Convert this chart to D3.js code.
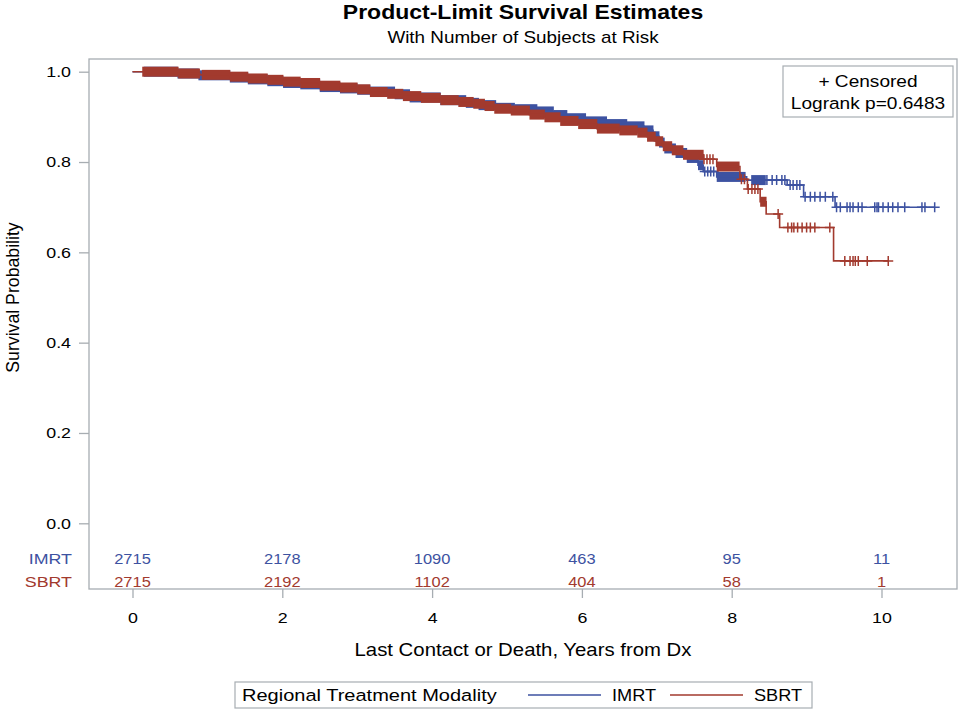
<!DOCTYPE html>
<html>
<head>
<meta charset="utf-8">
<script src="https://cdn.jsdelivr.net/npm/d3@7"></script>
<style>
  html, body { margin: 0; padding: 0; background: #fff; }
  svg { display: block; font-family: "Liberation Sans", Arial, sans-serif; }
</style>
</head>
<body>
<svg id="chart" width="961" height="711"></svg>
<script>
// ---------------- DATA ----------------
const groups = ["IMRT", "SBRT"];
const groupColors = ["#3D52A1", "#A23A2E"];
const xTicks = [0, 2, 4, 6, 8, 10];
const yTicks = [0.0, 0.2, 0.4, 0.6, 0.8, 1.0];
const riskTimes = [0, 2, 4, 6, 8, 10];
const riskIMRT = [2715, 2178, 1090, 463, 95, 11];
const riskSBRT = [2715, 2192, 1102, 404, 58, 1];
const logrankP = "0.6483";

// Kaplan-Meier steps: [time (years), survival from that time on]
const stepsIMRT = [
  [0, 1.0], [0.60, 0.996], [0.88, 0.992], [1.30, 0.987], [1.54, 0.983],
  [1.80, 0.979], [2.01, 0.975], [2.24, 0.972], [2.50, 0.966], [2.77, 0.963],
  [3.00, 0.960], [3.17, 0.956], [3.50, 0.950], [3.70, 0.943], [4.11, 0.937],
  [4.45, 0.931], [4.62, 0.926], [4.85, 0.920], [5.10, 0.917], [5.40, 0.912],
  [5.62, 0.904], [5.80, 0.897], [6.05, 0.890], [6.33, 0.884], [6.60, 0.879],
  [6.83, 0.870], [6.95, 0.857], [7.03, 0.843], [7.10, 0.830], [7.25, 0.820],
  [7.40, 0.809], [7.55, 0.793], [7.62, 0.779], [7.80, 0.767], [8.20, 0.760],
  [8.74, 0.749], [8.96, 0.723], [9.38, 0.700]
];
const endIMRT = 10.71;
const stepsSBRT = [
  [0, 1.0], [0.61, 0.996], [0.90, 0.993], [1.30, 0.989], [1.54, 0.985],
  [1.80, 0.982], [2.01, 0.978], [2.24, 0.975], [2.50, 0.969], [2.77, 0.965],
  [3.00, 0.961], [3.17, 0.955], [3.40, 0.951], [3.61, 0.946], [3.85, 0.942],
  [4.11, 0.937], [4.35, 0.933], [4.55, 0.929], [4.70, 0.924], [4.83, 0.918],
  [5.05, 0.914], [5.30, 0.905], [5.50, 0.899], [5.71, 0.891], [5.95, 0.884],
  [6.20, 0.874], [6.50, 0.870], [6.74, 0.865], [6.87, 0.856], [6.98, 0.846],
  [7.08, 0.835], [7.20, 0.826], [7.35, 0.816], [7.62, 0.806], [7.80, 0.790],
  [8.11, 0.762], [8.21, 0.740], [8.38, 0.712], [8.46, 0.685], [8.64, 0.655],
  [9.36, 0.581]
];
const endSBRT = 10.09;

// time ranges where censoring marks are so dense they merge into a solid band
const denseIMRT = [[0.15, 7.62], [7.80, 8.18], [8.26, 8.45]];
const denseSBRT = [[0.13, 0.895], [0.925, 7.62], [7.80, 8.10], [8.38, 8.46]];

// individual censoring times (outside dense ranges)
const censorIMRT = [7.64, 7.68, 7.72, 7.76, 8.47, 8.54, 8.60, 8.67, 8.71,
  8.78, 8.82, 8.87, 8.91, 8.98, 9.05, 9.11, 9.18, 9.25, 9.35,
  9.40, 9.45, 9.54, 9.58, 9.62, 9.69, 9.74, 9.91, 9.94, 9.96, 10.02,
  10.09, 10.15, 10.22, 10.31, 10.54, 10.58, 10.71];
const censorSBRT = [7.63, 7.67, 7.71, 7.75, 8.13, 8.17, 8.22, 8.27, 8.31, 8.35,
  8.62, 8.75, 8.80, 8.83, 8.88, 8.94, 9.00, 9.05, 9.11, 9.31,
  9.51, 9.58, 9.62, 9.65, 9.69, 9.81, 10.09];

// ---------------- CHART ----------------
const svg = d3.select("#chart");
const frame = { left: 89, top: 59, right: 957, bottom: 589 };
const x = d3.scaleLinear().domain([0, 10]).range([132.5, 881.5]);
const y = d3.scaleLinear().domain([0, 1]).range([523.3, 71.7]);
const gray = "#A7ADB2";
const SX = 1.15; // horizontal glyph stretch of the reference rendering
const valueFont = 15.5, labelFont = 17.7;

function stretch(sel) {
  sel.each(function () {
    const t = d3.select(this);
    const tx = +t.attr("x") || 0, ty = +t.attr("y") || 0;
    t.attr("x", 0).attr("y", 0)
      .attr("transform", `translate(${tx},${ty}) scale(${SX},1)`);
  });
  return sel;
}

// titles
const cx = (frame.left + frame.right) / 2;
stretch(svg.append("text").attr("x", cx).attr("y", 19).attr("text-anchor", "middle")
  .attr("font-size", 20).attr("font-weight", "bold").attr("fill", "#000")
  .text("Product-Limit Survival Estimates"));
stretch(svg.append("text").attr("x", cx).attr("y", 43).attr("text-anchor", "middle")
  .attr("font-size", 16.4).attr("fill", "#000")
  .text("With Number of Subjects at Risk"));

// frame
svg.append("rect").attr("x", frame.left).attr("y", frame.top)
  .attr("width", frame.right - frame.left).attr("height", frame.bottom - frame.top)
  .attr("fill", "none").attr("stroke", gray).attr("stroke-width", 1.3);

// y axis
const yAxis = d3.axisLeft(y).tickValues(yTicks).tickFormat(d3.format(".1f"))
  .tickSize(10).tickPadding(8);
const gy = svg.append("g").attr("transform", `translate(${frame.left},0)`).call(yAxis);
gy.select(".domain").remove();
gy.selectAll("line").attr("stroke", gray).attr("stroke-width", 1.3);
stretch(gy.selectAll("text").attr("font-size", valueFont).attr("fill", "#000")
  .attr("font-family", "Liberation Sans, Arial, sans-serif"));

// x axis
const xAxis = d3.axisBottom(x).tickValues(xTicks).tickFormat(d3.format("d"))
  .tickSize(9).tickPadding(14);
const gx = svg.append("g").attr("transform", `translate(0,${frame.bottom})`).call(xAxis);
gx.select(".domain").remove();
gx.selectAll("line").attr("stroke", gray).attr("stroke-width", 1.3);
stretch(gx.selectAll("text").attr("font-size", valueFont).attr("fill", "#000")
  .attr("font-family", "Liberation Sans, Arial, sans-serif"));

// axis labels
stretch(svg.append("text").attr("x", cx).attr("y", 656).attr("text-anchor", "middle")
  .attr("font-size", labelFont).attr("fill", "#000")
  .text("Last Contact or Death, Years from Dx"));
svg.append("text").attr("transform", `translate(19,${(y(0) + y(1)) / 2}) rotate(-90)`)
  .attr("text-anchor", "middle").attr("font-size", labelFont).attr("fill", "#000")
  .text("Survival Probability");

// curves
const plot = svg.append("g");
const line = d3.line().x(d => x(d[0])).y(d => y(d[1])).curve(d3.curveStepAfter);
const half = 5;

function survAt(steps, t) {
  let s = steps[0][1];
  for (const st of steps) { if (st[0] <= t) s = st[1]; else break; }
  return s;
}

function drawSeries(steps, end, dense, censor, color) {
  const g = plot.append("g");
  const pts = steps.concat([[end, steps[steps.length - 1][1]]]);
  dense.forEach(([a, b]) => {
    const cuts = [a].concat(steps.map(s => s[0]).filter(t => t > a && t < b)).concat([b]);
    for (let i = 0; i < cuts.length - 1; i++) {
      const s = survAt(steps, cuts[i]);
      g.append("rect")
        .attr("x", x(cuts[i])).attr("y", y(s) - half)
        .attr("width", Math.max(0.5, x(cuts[i + 1]) - x(cuts[i]) + 0.4))
        .attr("height", half * 2).attr("fill", color);
    }
  });
  g.append("path").datum(pts).attr("d", line)
    .attr("fill", "none").attr("stroke", color).attr("stroke-width", 1.6);
  g.selectAll("path.cm").data(censor).enter().append("path").attr("class", "cm")
    .attr("d", t => {
      const px = x(t), py = y(survAt(steps, t));
      return `M${px - half},${py}H${px + half}M${px},${py - half}V${py + half}`;
    })
    .attr("stroke", color).attr("stroke-width", 1.5).attr("fill", "none");
}
drawSeries(stepsIMRT, endIMRT, denseIMRT, censorIMRT, groupColors[0]);
drawSeries(stepsSBRT, endSBRT, denseSBRT, censorSBRT, groupColors[1]);

// inset legend
svg.append("rect").attr("x", 783).attr("y", 66).attr("width", 170).attr("height", 51)
  .attr("fill", "#fff").attr("stroke", gray).attr("stroke-width", 1.2);
stretch(svg.append("text").attr("x", 868).attr("y", 87).attr("text-anchor", "middle")
  .attr("font-size", 16.6).attr("fill", "#000").text("+ Censored"));
stretch(svg.append("text").attr("x", 868).attr("y", 109).attr("text-anchor", "middle")
  .attr("font-size", 16.6).attr("fill", "#000").text("Logrank p=" + logrankP));

// risk table
const riskRows = [riskIMRT, riskSBRT];
const riskY = [564, 587];
riskRows.forEach((row, i) => {
  stretch(svg.append("text").attr("x", 72).attr("y", riskY[i]).attr("text-anchor", "end")
    .attr("font-size", valueFont).attr("fill", groupColors[i]).text(groups[i]));
  stretch(svg.selectAll(null).data(row).enter().append("text")
    .attr("x", (d, j) => x(riskTimes[j])).attr("y", riskY[i])
    .attr("text-anchor", "middle").attr("font-size", 14.3)
    .attr("fill", groupColors[i]).text(d => d));
});

// bottom legend
svg.append("rect").attr("x", 235).attr("y", 682).attr("width", 577).attr("height", 26)
  .attr("fill", "#fff").attr("stroke", gray).attr("stroke-width", 1.2);
stretch(svg.append("text").attr("x", 242).attr("y", 701).attr("font-size", 17.4)
  .attr("fill", "#000").text("Regional Treatment Modality"));
const legX = [[528, 601, 612], [670, 743, 754]];
groups.forEach((gname, i) => {
  svg.append("line").attr("x1", legX[i][0]).attr("x2", legX[i][1])
    .attr("y1", 695).attr("y2", 695).attr("stroke", groupColors[i]).attr("stroke-width", 1.6);
  stretch(svg.append("text").attr("x", legX[i][2]).attr("y", 701).attr("font-size", 15.8)
    .attr("fill", "#000").text(gname));
});
</script>
</body>
</html>
